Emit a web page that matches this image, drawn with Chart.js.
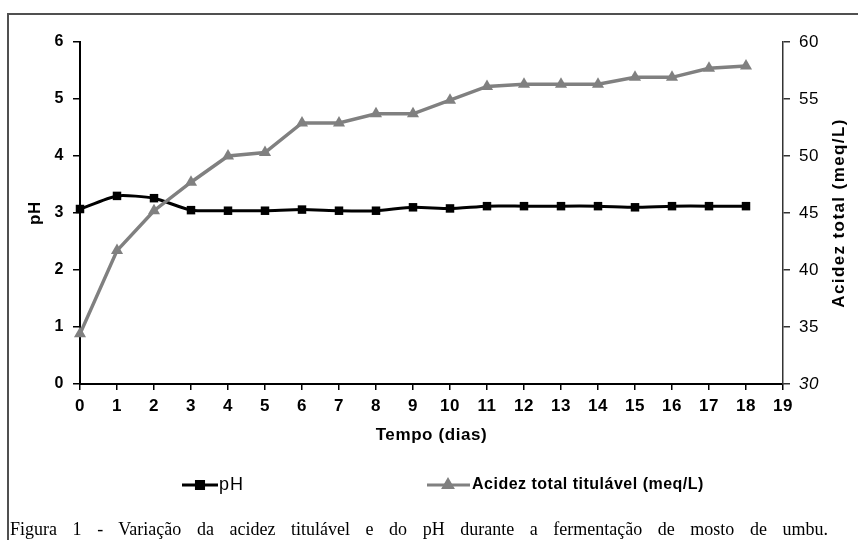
<!DOCTYPE html>
<html lang="pt">

<head>
  <meta charset="UTF-8">
  <title>Figura 1 - pH e acidez</title>
  <style>
    body {
      margin: 0;
      background-color: #ffffff;
      width: 858px;
      height: 540px;
      overflow: hidden;
      position: relative;
    }

    .frame {
      position: absolute;
      left: 7px;
      top: 13px;
      width: 860px;
      height: 540px;
      border-left: 2px solid #505050;
      border-top: 2px solid #505050;
    }

    #chart {
      position: absolute;
      left: 0;
      top: 0;
    }

    .caption {
      position: absolute;
      left: 10px;
      top: 520px;
      width: 818px;
      font-family: "Liberation Serif", "Times New Roman", serif;
      font-size: 18px;
      line-height: 18px;
      color: #000;
      text-align: justify;
      text-align-last: justify;
      white-space: nowrap;
    }
  </style>
  <script src="https://cdn.jsdelivr.net/npm/chart.js"></script>
</head>

<body>
  <div class="frame"></div>
  <canvas id="chart" width="858" height="540"></canvas>
  <div class="caption">Figura 1 - Variação da acidez titulável e do pH durante a fermentação de mosto de umbu.</div>

  <script>
    // valores
    const dias = [0, 1, 2, 3, 4, 5, 6, 7, 8, 9, 10, 11, 12, 13, 14, 15, 16, 17, 18];
    const ph = [3.07, 3.30, 3.26, 3.05, 3.04, 3.04, 3.06, 3.04, 3.04, 3.10, 3.08, 3.12, 3.12, 3.12, 3.12, 3.10, 3.12, 3.12, 3.12];
    const acidez = [34.4, 41.7, 45.2, 47.7, 50.0, 50.3, 52.9, 52.9, 53.7, 53.7, 54.9, 56.1, 56.3, 56.3, 56.3, 56.9, 56.9, 57.7, 57.9];

    const phTicks = [0, 1, 2, 3, 4, 5, 6];
    const acidezTicks = [30, 35, 40, 45, 50, 55, 60];
    const diasTicks = [0, 19];

    const legendLabels = ['pH', 'Acidez total titulável (meq/L)'];
    const rightTitle = 'Acidez total (meq/L)';

    const FONT = '"Liberation Sans", Arial, sans-serif';
    const GRAY = '#808080';

    const phPoints = dias.map((d, i) => ({ x: d, y: ph[i] }));
    const acidezPoints = dias.map((d, i) => ({ x: d, y: acidez[i] }));

    // slightly wider text like the original
    const spacing = {
      id: 'spacing',
      beforeDraw(chart) {
        chart.ctx.letterSpacing = '0.6px';
      }
    };

    // legend and right title drawn by hand
    const extras = {
      id: 'extras',
      afterDraw(chart) {
        const ctx = chart.ctx;
        const y = 485;
        ctx.save();
        ctx.textBaseline = 'middle';

        // pH
        ctx.letterSpacing = '1px';
        ctx.strokeStyle = '#000';
        ctx.lineWidth = 3;
        ctx.beginPath();
        ctx.moveTo(182, y);
        ctx.lineTo(218, y);
        ctx.stroke();
        Chart.helpers.drawPoint(ctx, { pointStyle: 'rect', radius: 5, borderWidth: 1 }, 200, y);
        ctx.fillStyle = '#000';
        ctx.fill();
        ctx.font = 'normal 18px ' + FONT;
        ctx.fillText(legendLabels[0], 219, y);

        // acidez
        ctx.letterSpacing = '0.5px';
        ctx.strokeStyle = GRAY;
        ctx.fillStyle = GRAY;
        ctx.lineWidth = 3;
        ctx.beginPath();
        ctx.moveTo(427, y);
        ctx.lineTo(470, y);
        ctx.stroke();
        Chart.helpers.drawPoint(ctx, { pointStyle: 'triangle', radius: 5, borderWidth: 1 }, 448, y);
        ctx.fill();
        ctx.fillStyle = '#000';
        ctx.font = 'bold 16px ' + FONT;
        ctx.fillText(legendLabels[1], 472, y);

        // right axis title, reading upwards
        const area = chart.chartArea;
        ctx.letterSpacing = '1.4px';
        ctx.translate(839, (area.top + area.bottom) / 2);
        ctx.rotate(-Math.PI / 2);
        ctx.textAlign = 'center';
        ctx.font = 'bold 17px ' + FONT;
        ctx.fillText(rightTitle, 0, 0);
        ctx.restore();
      }
    };

    new Chart(document.getElementById('chart'), {
      type: 'line',
      data: {
        datasets: [{
          label: legendLabels[0],
          data: phPoints,
          yAxisID: 'y',
          borderColor: '#000',
          backgroundColor: '#000',
          borderWidth: 3,
          tension: 0.2,
          pointStyle: 'rect',
          pointRadius: 6,
          pointBorderWidth: 0,
          order: 1,
          clip: false
        }, {
          label: legendLabels[1],
          data: acidezPoints,
          yAxisID: 'y1',
          borderColor: GRAY,
          backgroundColor: GRAY,
          borderWidth: 3.5,
          tension: 0,
          pointStyle: 'triangle',
          pointRadius: 7,
          pointBorderWidth: 0,
          order: 0,
          clip: false
        }]
      },
      options: {
        responsive: false,
        animation: false,
        layout: {
          padding: { left: 0, right: 0, top: 42, bottom: 86 }
        },
        plugins: {
          legend: { display: false },
          tooltip: { enabled: false }
        },
        scales: {
          x: {
            type: 'linear',
            min: diasTicks[0],
            max: diasTicks[1],
            afterFit(scale) { scale.height = 70; },
            border: { display: true, color: '#000', width: 2 },
            grid: { drawOnChartArea: false, drawTicks: true, tickLength: 6, color: '#000', lineWidth: 1.5 },
            ticks: {
              stepSize: 1,
              padding: 6,
              color: '#000',
              font: { family: FONT, size: 17, weight: 'bold' }
            },
            title: {
              display: true,
              text: 'Tempo (dias)',
              color: '#000',
              padding: { top: 0, bottom: 8 },
              font: { family: FONT, size: 17, weight: 'bold' }
            }
          },
          y: {
            position: 'left',
            min: phTicks[0],
            max: phTicks[phTicks.length - 1],
            afterFit(scale) { scale.width = 80; },
            afterBuildTicks(scale) { scale.ticks = phTicks.map(v => ({ value: v })); },
            border: { display: true, color: '#000', width: 2 },
            grid: { drawOnChartArea: false, drawTicks: true, tickLength: 7, color: '#000', lineWidth: 1.5 },
            ticks: {
              padding: 9,
              color: '#000',
              font: { family: FONT, size: 16, weight: 'bold' }
            },
            title: {
              display: true,
              text: 'pH',
              color: '#000',
              padding: { top: 25, bottom: 0 },
              font: { family: FONT, size: 17, weight: 'bold' }
            }
          },
          y1: {
            position: 'right',
            min: acidezTicks[0],
            max: acidezTicks[acidezTicks.length - 1],
            afterFit(scale) { scale.width = 75; },
            afterBuildTicks(scale) { scale.ticks = acidezTicks.map(v => ({ value: v })); },
            border: { display: true, color: '#333', width: 1.5 },
            grid: { drawOnChartArea: false, drawTicks: true, tickLength: 7, color: '#333', lineWidth: 1.5 },
            ticks: {
              padding: 9,
              color: '#000',
              font: ctx => ({
                family: FONT,
                size: 17,
                weight: 'normal',
                style: ctx.tick && ctx.tick.value === acidezTicks[0] ? 'italic' : 'normal'
              })
            },
            title: { display: false }
          }
        }
      },
      plugins: [spacing, extras]
    });
  </script>
</body>

</html>
